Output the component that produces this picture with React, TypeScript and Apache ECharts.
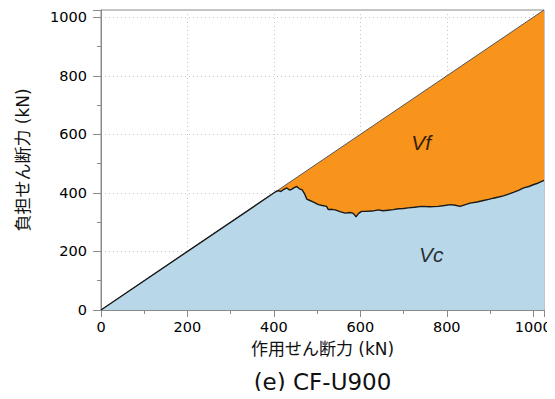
import React, { useEffect, useRef } from "react";
import * as echarts from "echarts";

const AXIS_MAX = 1025;
const tickValues = [0, 200, 400, 600, 800, 1000];
const appliedShear = [0, 1025]; // diagonal (total shear) x values
const totalShear = [0, 1025]; // diagonal y values

const vcX = [
  0, 404, 410, 416, 422, 430, 436, 441, 447, 453, 459, 465, 469, 472, 476, 482,
  488, 495, 503, 512, 522, 526, 534, 542, 553, 565, 576, 582, 586, 590, 596, 603,
  612, 627, 642, 652, 664, 676, 688, 700, 711, 725, 742, 760, 780, 795, 808, 820,
  831, 843, 854, 870, 885, 897, 908, 920, 931, 943, 954, 966, 978, 990, 1000, 1012, 1025,
];
const vcY = [
  0, 404, 408, 405, 411, 417, 410, 412, 418, 422, 414, 411, 402, 394, 379, 375,
  371, 366, 360, 357, 354, 343, 344, 342, 336, 331, 333, 331, 327, 318, 330, 337,
  337, 338, 342, 339, 341, 343, 346, 347, 349, 351, 354, 353, 354, 357, 360, 358,
  354, 360, 365, 369, 374, 378, 382, 386, 390, 396, 402, 409, 417, 422, 428, 434, 443,
];

const labelNames = ["Vf", "Vc"];
const labelX = [741, 764];
const labelY = [571, 188];

const xName = "作用せん断力 (kN)";
const yName = "負担せん断力 (kN)";
const titleText = "(e) CF-U900";

const FONT = "'DejaVu Sans', 'Noto Sans CJK JP', sans-serif";

export default function App() {
  const ref = useRef<HTMLDivElement>(null);
  useEffect(() => {
    if (!ref.current) return;
    const chart = echarts.init(ref.current, undefined, { renderer: "svg" });
    const axisCommon = (isX: boolean) => ({
      type: "value" as const,
      min: 0,
      max: AXIS_MAX,
      interval: 200,
      axisLine: { show: true, lineStyle: { color: "#8a8a8a", width: 1 } },
      axisTick: { show: true, inside: false, length: isX ? 7 : 8, lineStyle: { color: "#8a8a8a" } },
      minorTick: { show: true, splitNumber: 2, length: 4, lineStyle: { color: "#8a8a8a" } },
      splitLine: { show: true, lineStyle: { color: "#c8c8c8", type: [1, 3] as any, width: 1 } },
      axisLabel: {
        color: "#000000",
        fontSize: 14.5,
        fontFamily: FONT,
        margin: isX ? 10 : 14,
        formatter: (v: number) => (tickValues.includes(v) ? String(v) : ""),
      },
      nameLocation: "middle" as const,
      nameTextStyle: { color: "#111111", fontSize: 17, fontFamily: FONT },
    });
    chart.setOption({
      animation: false,
      backgroundColor: "#ffffff",
      grid: {
        left: 101,
        top: 10,
        right: 11,
        bottom: 89,
        show: true,
        borderColor: "#8a8a8a",
        borderWidth: 1,
        backgroundColor: "transparent",
      },
      xAxis: { ...axisCommon(true), name: xName, nameGap: 30 },
      yAxis: { ...axisCommon(false), name: yName, nameGap: 70 },
      graphic: [
        {
          type: "text",
          x: 322.5,
          y: 382,
          style: {
            text: titleText,
            fontSize: 23,
            fontFamily: FONT,
            fill: "#111111",
            textAlign: "center",
            textVerticalAlign: "middle",
          },
        },
      ],
      series: [
        {
          type: "line",
          name: "total",
          data: appliedShear.map((x, i) => [x, totalShear[i]]),
          showSymbol: false,
          symbol: "none",
          lineStyle: { color: "#555555", width: 1 },
          areaStyle: { color: "#F8931C", opacity: 1, origin: "start" },
          z: 2,
        },
        {
          type: "line",
          name: "Vc",
          data: vcX.map((x, i) => [x, vcY[i]]),
          showSymbol: false,
          symbol: "none",
          lineStyle: { color: "#1a1a1a", width: 1.4 },
          areaStyle: { color: "#B8D8EA", opacity: 1, origin: "start" },
          z: 3,
        },
        {
          type: "scatter",
          data: labelNames.map((n, i) => ({ name: n, value: [labelX[i], labelY[i]] })),
          symbolSize: 0,
          label: {
            show: true,
            position: "inside",
            formatter: (p: any) => p.name,
            fontFamily: "'Liberation Sans', sans-serif",
            fontStyle: "italic",
            fontSize: 21,
            color: "#000000",
          },
          z: 5,
        },
      ],
    });
    return () => chart.dispose();
  }, []);
  return <div ref={ref} style={{ width: 555, height: 399, margin: -8 }} />;
}
